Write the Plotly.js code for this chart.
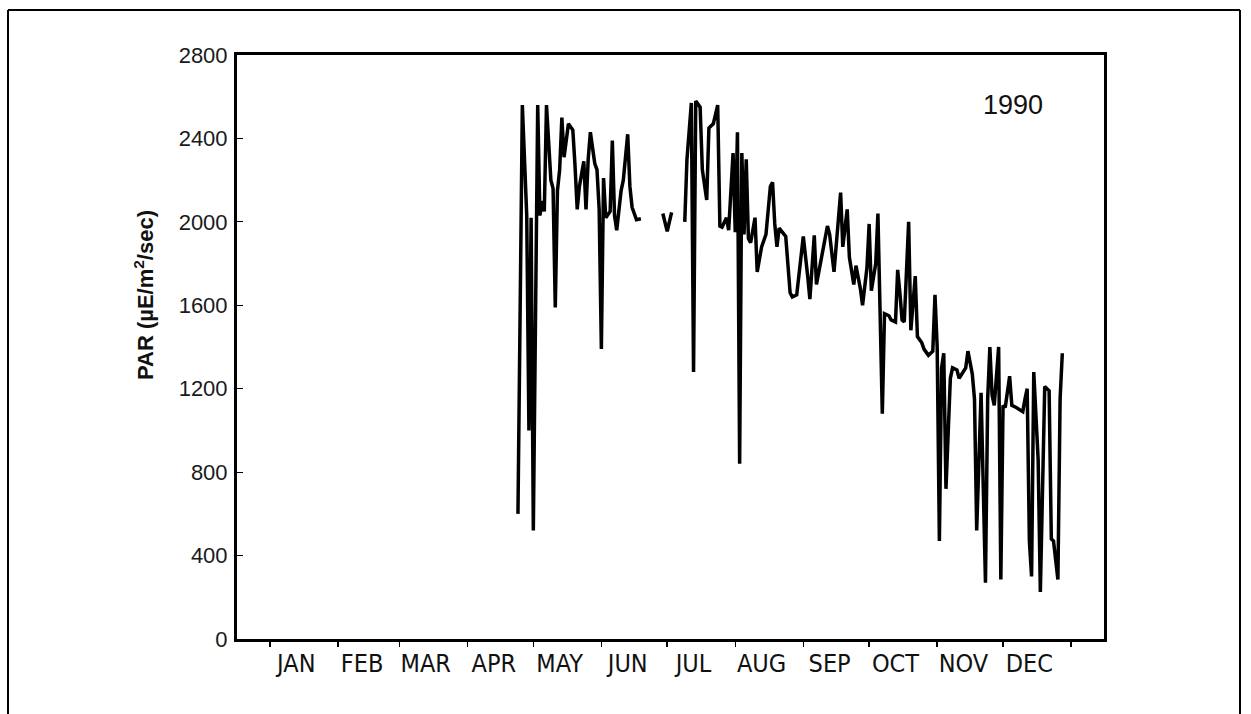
<!DOCTYPE html>
<html>
<head>
<meta charset="utf-8">
<script src="https://cdn.plot.ly/plotly-3.0.1.min.js"></script>
<style>
  html, body { margin: 0; padding: 0; background: #ffffff; }
  #chart { width: 1251px; height: 714px; }
</style>
</head>
<body>
<div id="chart"></div>
<script>
// Day of year 1990 (0 = Jan 1); null marks gaps in the record
const days = [
  113,115,117,118,119,120,122,123,124,125,126,128,129,130,131,132,133,134,136,138,
  139,140,141,143,144,145,146,148,149,150,151,152,153,155,156,157,158,160,161,163,
  164,165,167,169,
  null,
  179,181,183,
  null,
  189,190,192,193,194,196,197,199,200,202,204,205,206,208,209,211,212,213,214,215,
  216,217,218,219,221,222,224,226,228,229,230,231,232,235,237,238,240,243,245,246,
  248,249,254,255,257,258,260,261,263,264,266,267,269,270,272,273,274,276,277,279,
  280,282,283,285,286,287,288,289,291,292,294,295,297,298,300,302,303,304,305,306,
  307,308,310,311,313,314,317,318,320,321,322,324,326,327,328,329,330,332,333,334,
  335,337,338,340,343,344,345,346,347,348,350,351,352,353,354,355,356,357,359,360,
  361
];
// PAR values (µE/m²/sec)
const par = [
  600,2560,2030,1000,2020,520,2560,2030,2100,2050,2560,2200,2160,1590,2150,2250,2500,2310,2470,2440,
  2270,2060,2170,2290,2060,2300,2430,2280,2250,2060,1390,2210,2020,2050,2390,2030,1960,2150,2200,2420,
  2170,2070,2010,2015,
  null,
  2040,1955,2045,
  null,
  2000,2300,2570,1280,2580,2550,2250,2105,2450,2470,2560,1980,1975,2020,1960,2330,1950,2430,840,2330,
  1940,2300,1920,1900,2020,1760,1880,1940,2170,2190,1990,1880,1970,1930,1660,1640,1650,1930,1740,1630,
  1935,1700,1980,1940,1760,1880,2140,1880,2060,1830,1700,1790,1680,1600,1780,1990,1670,1800,2040,1080,
  1560,1550,1530,1520,1770,1660,1530,1520,2000,1480,1740,1450,1420,1390,1360,1380,1650,1400,470,1300,
  1370,720,1250,1300,1290,1250,1300,1380,1270,1150,520,1180,270,1150,1400,1170,1120,1400,285,1120,
  1110,1260,1120,1110,1090,1150,1200,470,300,1280,860,225,800,1210,1200,1190,480,470,285,1150,
  1370
];

const monthLabels = ['JAN','FEB','MAR','APR','MAY','JUN','JUL','AUG','SEP','OCT','NOV','DEC'];
const monthStarts = [0,31,59,90,120,151,181,212,243,273,304,334,365];
const labelDays = [12,42,71,102,132,163,193,224,255,285,316,346];
const yTicks = [0,400,800,1200,1600,2000,2400,2800];
const yearLabel = '1990';

const trace = {
  x: days, y: par, type: 'scatter', mode: 'lines',
  line: {color: '#000000', width: 3.5},
  connectgaps: false, hoverinfo: 'skip'
};

const layout = {
  width: 1251, height: 714,
  margin: {l: 237, r: 147, t: 55, b: 75},
  paper_bgcolor: '#ffffff', plot_bgcolor: '#ffffff',
  showlegend: false,
  xaxis: {
    range: [-15, 380],
    showgrid: false, zeroline: false,
    showline: true, linecolor: '#000', linewidth: 3, mirror: true,
    tickmode: 'array', tickvals: labelDays, ticktext: monthLabels,
    ticks: '',
    tickfont: {family: '"Liberation Sans Narrow", "DejaVu Sans Condensed", Arial, sans-serif', size: 25, color: '#111'},
    minor: {tickmode: 'array', tickvals: monthStarts, ticks: 'outside', ticklen: 5, tickwidth: 1.5, tickcolor: '#000', showgrid: false}
  },
  yaxis: {
    range: [0, 2800],
    showgrid: false, zeroline: false,
    showline: true, linecolor: '#000', linewidth: 3, mirror: true,
    tickmode: 'array', tickvals: yTicks, ticktext: yTicks.map(String),
    ticks: 'inside', ticklen: 6, tickwidth: 1.2, tickcolor: '#000',
    tickfont: {family: '"Liberation Sans", Arial, sans-serif', size: 22, color: '#1a1a1a'},
    ticklabelstandoff: 2
  },
  annotations: [
    {text: yearLabel, xref: 'paper', yref: 'paper', x: (1045-237)/867, y: (639-88)/584,
     showarrow: false, font: {family: '"Liberation Sans", Arial, sans-serif', size: 27, color: '#111'}},
    {text: '<b>PAR (µE/m<sup>2</sup>/sec)</b>', xref: 'paper', yref: 'paper',
     x: (128-237)/867, y: (639-295)/584, textangle: -90, showarrow: false,
     font: {family: '"Liberation Sans", Arial, sans-serif', size: 22, color: '#111'}}
  ],
  shapes: [
    {type: 'line', xref: 'paper', yref: 'paper', x0: (8-237)/867, x1: (8-237)/867, y0: (639-10)/584, y1: (639-714)/584, line: {color: '#000', width: 2}},
    {type: 'line', xref: 'paper', yref: 'paper', x0: (8-237)/867, x1: (1240-237)/867, y0: (639-10)/584, y1: (639-10)/584, line: {color: '#000', width: 2}},
    {type: 'line', xref: 'paper', yref: 'paper', x0: (1240-237)/867, x1: (1240-237)/867, y0: (639-10)/584, y1: (639-714)/584, line: {color: '#000', width: 2}}
  ]
};

Plotly.newPlot('chart', [trace], layout, {displayModeBar: false, staticPlot: true});
</script>
</body>
</html>
